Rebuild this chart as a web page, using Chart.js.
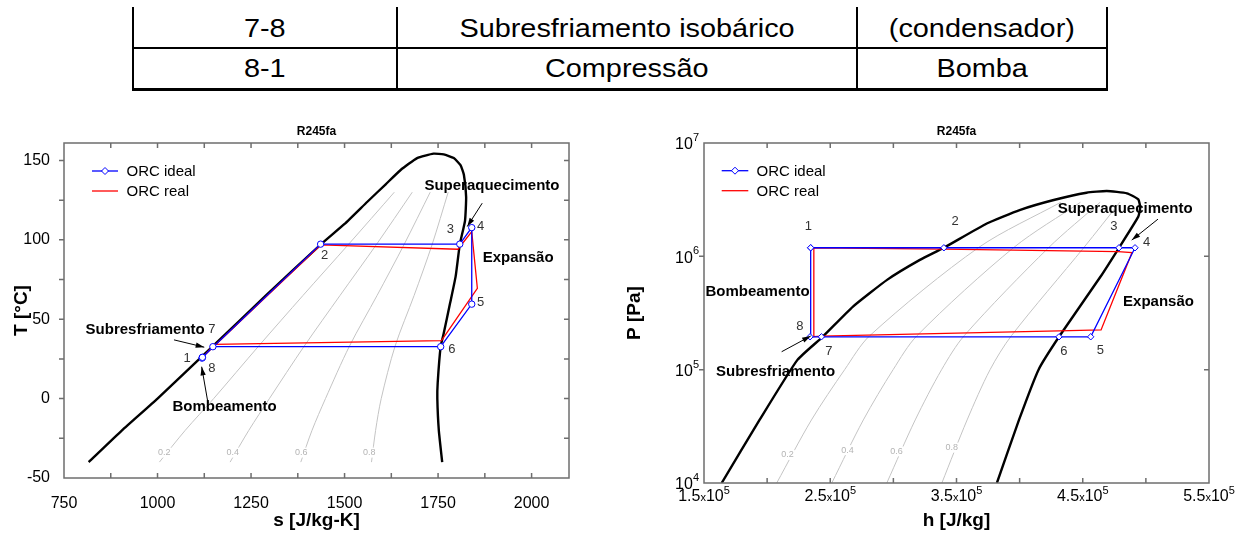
<!DOCTYPE html>
<html>
<head>
<meta charset="utf-8">
<script src="https://cdn.jsdelivr.net/npm/chart.js@4.4.0/dist/chart.umd.min.js"></script>
<style>
  body { margin: 0; width: 1246px; height: 536px; overflow: hidden; position: relative; background: #fff;
         font-family: 'Liberation Sans', Arial, sans-serif; }
  .linha { position: absolute; background: #000; }
  .cel { position: absolute; text-align: center; font-size: 26px; line-height: 30px; color: #000; }
  .cel span { display: inline-block; transform: scaleX(1.11); }
  canvas { position: absolute; }
</style>
</head>
<body>

<!-- fim da tabela de processos -->
<div class="linha" style="left:132px; top:7px; width:2px; height:82px"></div>
<div class="linha" style="left:396px; top:7px; width:2px; height:82px"></div>
<div class="linha" style="left:856px; top:7px; width:2px; height:82px"></div>
<div class="linha" style="left:1106px; top:7px; width:2px; height:82px"></div>
<div class="linha" style="left:132px; top:47px; width:976px; height:2px"></div>
<div class="linha" style="left:132px; top:88px; width:976px; height:3px"></div>
<div class="cel" style="left:133px; top:13px; width:264px"><span>7-8</span></div>
<div class="cel" style="left:397px; top:13px; width:460px"><span>Subresfriamento isobárico</span></div>
<div class="cel" style="left:857px; top:13px; width:250px"><span>(condensador)</span></div>
<div class="cel" style="left:133px; top:53px; width:264px"><span>8-1</span></div>
<div class="cel" style="left:397px; top:53px; width:460px"><span>Compressão</span></div>
<div class="cel" style="left:857px; top:53px; width:250px"><span>Bomba</span></div>

<canvas id="tsChart" width="600" height="436" style="left:0; top:100px"></canvas>
<canvas id="phChart" width="626" height="436" style="left:620px; top:100px"></canvas>

<script>
const FONT = "'Liberation Sans', Arial, sans-serif";
Chart.defaults.font.family = FONT;
Chart.defaults.color = '#000';

// ---- diagrama T-s ----
// estados 1..8 do ciclo
const tsIdealS = [1120, 1436, 1808, 1840, 1840, 1757, 1148, 1119];
const tsIdealT = [26, 97.3, 97.3, 107.7, 59.5, 32.7, 32.7, 25.5];
const tsRealS = [1122, 1436, 1803, 1840, 1855, 1759, 1152, 1121];
const tsRealT = [26.5, 96.8, 94.1, 105.2, 69.5, 36.5, 34.2, 26];
// curva de saturação (líquido e vapor)
const tsLiqS = [816, 905, 1000, 1148, 1290, 1436, 1500, 1561, 1610, 1650, 1694, 1738];
const tsLiqT = [-40, -20, 0, 33, 65, 97, 110, 124, 135, 144, 151.5, 154.3];
const tsVapS = [1765, 1792, 1810, 1819, 1825, 1822, 1808, 1797, 1782, 1765, 1757, 1749, 1748, 1752, 1761];
const tsVapT = [153.8, 151.5, 147, 141, 127, 112, 97, 77, 60, 41, 33, 10, 0, -20, -40];
// linhas de título
const tsQualT = [-40, -20, 0, 33, 65, 97, 130];
const tsQ02 = [1005, 1074, 1150, 1270, 1389, 1510, 1633];
const tsQ04 = [1194, 1244, 1299, 1392, 1488, 1585, 1681];
const tsQ06 = [1383, 1413, 1449, 1513, 1587, 1659, 1729];
const tsQ08 = [1572, 1583, 1598, 1635, 1686, 1734, 1777];
const tsXTicks = [875, 1000, 1125, 1250, 1375, 1500, 1625, 1750, 1875, 2000];
const tsYTicks = [-25, 0, 25, 50, 75, 100, 125, 150];

// ---- diagrama P-h ----
const phIdealH = [2.345e5, 3.40e5, 4.787e5, 4.914e5, 4.563e5, 4.312e5, 2.43e5, 2.34e5];
const phIdealP = [1.19e6, 1.19e6, 1.19e6, 1.19e6, 1.95e5, 1.95e5, 1.95e5, 1.95e5];
const phRealH = [2.37e5, 3.40e5, 4.78e5, 4.89e5, 4.645e5, 4.31e5, 2.43e5, 2.37e5];
const phRealP = [1.19e6, 1.16e6, 1.10e6, 1.08e6, 2.24e5, 2.2e5, 1.98e5, 1.96e5];
const phLiqH = [1.64e5, 1.94e5, 2.24e5, 2.44e5, 2.68e5, 2.95e5, 3.21e5, 3.40e5, 3.74e5, 4.0e5, 4.27e5, 4.53e5, 4.69e5];
const phLiqP = [1e4, 3.6e4, 1.22e5, 1.95e5, 3.6e5, 6.2e5, 9.3e5, 1.19e6, 1.95e6, 2.56e6, 3.14e6, 3.64e6, 3.77e6];
const phVapH = [4.85e5, 4.94e5, 4.955e5, 4.94e5, 4.787e5, 4.64e5, 4.312e5, 4.15e5, 3.995e5, 3.82e5];
const phVapP = [3.6e6, 3.18e6, 2.7e6, 2.24e6, 1.19e6, 6.6e5, 1.95e5, 1e5, 3.6e4, 1e4];
const phQualP = [1e4, 3.6e4, 1e5, 2e5, 1.2e6, 3e6];
const phQ02 = [2.076e5, 2.351e5, 2.614e5, 2.814e5, 3.677e5, 4.326e5];
const phQ04 = [2.512e5, 2.762e5, 2.998e5, 3.188e5, 3.955e5, 4.482e5];
const phQ06 = [2.948e5, 3.173e5, 3.382e5, 3.562e5, 4.232e5, 4.638e5];
const phQ08 = [3.384e5, 3.584e5, 3.766e5, 3.936e5, 4.510e5, 4.794e5];
const phXLabels = [1.5e5, 2.5e5, 3.5e5, 4.5e5, 5.5e5];
const phXTicks = [2e5, 2.5e5, 3e5, 3.5e5, 4e5, 4.5e5, 5e5];
const phYLabels = [1e4, 1e5, 1e6, 1e7];
const phYTicks = [1e5, 1e6];

const pts = (xs, ys) => xs.map((v, i) => ({ x: v, y: ys[i] }));
const closed = (xs, ys) => pts(xs.concat(xs[0]), ys.concat(ys[0]));

function cycleSets(ideal, real, dome, quals, marker) {
  const sets = [
    { label: 'ORC ideal', data: ideal, borderColor: '#0000ff', borderWidth: 1.3, showLine: true,
      pointRadius: 3.2, pointStyle: marker, pointBackgroundColor: '#fff', pointBorderColor: '#0000ff', pointBorderWidth: 1 },
    { label: 'ORC real', data: real, borderColor: '#ff0000', borderWidth: 1.3, showLine: true, pointRadius: 0 },
    { label: 'sat', data: dome, borderColor: '#000', borderWidth: 2.4, showLine: true, pointRadius: 0, tension: 0.15 }
  ];
  quals.forEach(q => sets.push({ data: q, borderColor: '#c4c4c4', borderWidth: 1, showLine: true, pointRadius: 0, tension: 0.3 }));
  return sets;
}

// moldura, marcas, legenda e textos por cima do gráfico
function overlay(cfg) {
  return {
    id: 'overlay',
    afterDraw(chart) {
      const { ctx, chartArea: a, scales: { x, y } } = chart;
      const px = v => x.getPixelForValue(v), py = v => y.getPixelForValue(v);
      ctx.save();

      ctx.strokeStyle = '#6e6e6e';
      ctx.lineWidth = 1.5;
      ctx.strokeRect(a.left, a.top, a.right - a.left, a.bottom - a.top);
      ctx.beginPath();
      cfg.xTicks.forEach(v => {
        const p = px(v);
        ctx.moveTo(p, a.bottom); ctx.lineTo(p, a.bottom - 5);
        ctx.moveTo(p, a.top); ctx.lineTo(p, a.top + 5);
      });
      cfg.yTicks.forEach(v => {
        const p = py(v);
        ctx.moveTo(a.left - 5, p); ctx.lineTo(a.left, p);
        ctx.moveTo(a.right, p); ctx.lineTo(a.right - 5, p);
      });
      ctx.stroke();

      ctx.textAlign = 'center';
      ctx.textBaseline = 'middle';

      // rótulos das linhas de título
      ctx.font = '9px ' + FONT;
      cfg.qLabels.forEach(l => {
        const w = ctx.measureText(l.t).width;
        ctx.fillStyle = '#fff';
        ctx.fillRect(px(l.x) - w / 2 - 1, py(l.y) - 5, w + 2, 10);
        ctx.fillStyle = '#b4b4b4';
        ctx.fillText(l.t, px(l.x), py(l.y));
      });

      ctx.fillStyle = '#333';
      ctx.font = '13px ' + FONT;
      cfg.pointLabels.forEach(l => ctx.fillText(l.t, px(l.x), py(l.y)));

      ctx.fillStyle = '#000';
      ctx.font = 'bold 15px ' + FONT;
      cfg.notes.forEach(l => ctx.fillText(l.t, px(l.x), py(l.y)));

      ctx.strokeStyle = '#000';
      ctx.lineWidth = 1;
      cfg.arrows.forEach(ar => {
        const x0 = px(ar.from[0]), y0 = py(ar.from[1]), x1 = px(ar.to[0]), y1 = py(ar.to[1]);
        const ang = Math.atan2(y1 - y0, x1 - x0);
        ctx.beginPath(); ctx.moveTo(x0, y0); ctx.lineTo(x1, y1); ctx.stroke();
        ctx.beginPath();
        ctx.moveTo(x1, y1);
        ctx.lineTo(x1 - 9 * Math.cos(ang - 0.3), y1 - 9 * Math.sin(ang - 0.3));
        ctx.lineTo(x1 - 9 * Math.cos(ang + 0.3), y1 - 9 * Math.sin(ang + 0.3));
        ctx.closePath(); ctx.fill();
      });

      // legenda
      const lg = cfg.legend;
      const entries = [['ORC ideal', '#0000ff', true], ['ORC real', '#ff0000', false]];
      entries.forEach((e, i) => {
        const ly = a.top + lg.y + i * 20;
        ctx.strokeStyle = e[1]; ctx.lineWidth = 1.3;
        ctx.beginPath(); ctx.moveTo(a.left + lg.x0, ly); ctx.lineTo(a.left + lg.x1, ly); ctx.stroke();
        if (e[2]) {
          const mx = a.left + (lg.x0 + lg.x1) / 2;
          ctx.fillStyle = '#fff'; ctx.lineWidth = 1;
          ctx.beginPath();
          ctx.moveTo(mx, ly - 3.5); ctx.lineTo(mx + 3.5, ly); ctx.lineTo(mx, ly + 3.5); ctx.lineTo(mx - 3.5, ly);
          ctx.closePath(); ctx.fill(); ctx.stroke();
        }
        ctx.fillStyle = '#000';
        ctx.font = '15px ' + FONT;
        ctx.textAlign = 'left';
        ctx.fillText(e[0], a.left + lg.tx, ly + 1);
      });

      ctx.textAlign = 'center';
      ctx.font = 'bold 12px ' + FONT;
      ctx.fillText('R245fa', (a.left + a.right) / 2, a.top - 11);

      if (cfg.extra) cfg.extra(chart);
      ctx.restore();
    }
  };
}

// rótulos com expoente do diagrama P-h
function phTickLabels(chart) {
  const { ctx, chartArea: a, scales: { x, y } } = chart;
  ctx.fillStyle = '#000';
  ctx.textBaseline = 'middle';
  phYLabels.forEach(v => {
    const e = String(Math.round(Math.log10(v)));
    const p = y.getPixelForValue(v);
    ctx.font = '11px ' + FONT;
    const we = ctx.measureText(e).width;
    ctx.textAlign = 'left';
    ctx.fillText(e, a.left - 5 - we, p - 5);
    ctx.font = '16px ' + FONT;
    ctx.textAlign = 'right';
    ctx.fillText('10', a.left - 5 - we, p + 2);
  });
  phXLabels.forEach(v => {
    const parts = [[String(v / 1e5), 16, 0], ['x', 11, 1], ['10', 16, 0], ['5', 11, -6]];
    let total = 0;
    parts.forEach(pt => { ctx.font = pt[1] + 'px ' + FONT; pt.push(ctx.measureText(pt[0]).width); total += pt[3]; });
    let cx = x.getPixelForValue(v) - total / 2;
    ctx.textAlign = 'left';
    parts.forEach(pt => {
      ctx.font = pt[1] + 'px ' + FONT;
      ctx.fillText(pt[0], cx, a.bottom + 14 + pt[2]);
      cx += pt[3];
    });
  });
}

const axisTitle = (text, pad) => ({ display: true, text: text, color: '#000', font: { size: 19, weight: 'bold' }, padding: pad });

new Chart(document.getElementById('tsChart'), {
  type: 'scatter',
  data: {
    datasets: cycleSets(
      closed(tsIdealS, tsIdealT), closed(tsRealS, tsRealT),
      pts(tsLiqS.concat(tsVapS), tsLiqT.concat(tsVapT)),
      [pts(tsQ02, tsQualT), pts(tsQ04, tsQualT), pts(tsQ06, tsQualT), pts(tsQ08, tsQualT)],
      'circle')
  },
  options: {
    responsive: false, animation: false, events: [],
    layout: { padding: { top: 43, right: 31, left: 0, bottom: 0 } },
    plugins: { legend: { display: false }, tooltip: { enabled: false } },
    scales: {
      x: {
        min: 750, max: 2100,
        grid: { display: false }, border: { display: false },
        ticks: { stepSize: 250, includeBounds: false, autoSkip: false, maxRotation: 0, padding: 8, font: { size: 16 },
                 callback: v => String(v) },
        title: axisTitle('s [J/kg-K]', { top: 0, bottom: 4 }),
        afterFit: s => { s.height = 58; }
      },
      y: {
        min: -50, max: 161,
        grid: { display: false }, border: { display: false },
        ticks: { stepSize: 50, includeBounds: false, autoSkip: false, padding: 6, font: { size: 16 },
                 callback: v => String(v) },
        title: axisTitle('T [°C]', { top: 10, bottom: 0 }),
        afterFit: s => { s.width = 64; }
      }
    }
  },
  plugins: [overlay({
    xTicks: tsXTicks, yTicks: tsYTicks,
    legend: { x0: 28, x1: 54, y: 28, tx: 62.5 },
    qLabels: [{ t: '0.2', x: 1018, y: -34 }, { t: '0.4', x: 1201, y: -34 }, { t: '0.6', x: 1384, y: -34 }, { t: '0.8', x: 1566, y: -34 }],
    pointLabels: [
      { t: '1', x: 1079, y: 25.6 }, { t: '2', x: 1447, y: 89.9 }, { t: '3', x: 1783, y: 106.3 }, { t: '4', x: 1864, y: 108.4 },
      { t: '5', x: 1864, y: 60.5 }, { t: '6', x: 1787, y: 30.7 }, { t: '7', x: 1145, y: 43.3 }, { t: '8', x: 1145, y: 19.3 }
    ],
    notes: [
      { t: 'Superaquecimento', x: 1894, y: 134.2 }, { t: 'Expansão', x: 1964, y: 88.4 },
      { t: 'Subresfriamento', x: 967, y: 43.3 }, { t: 'Bombeamento', x: 1179, y: -5.3 }
    ],
    arrows: [
      { from: [1868, 123.1], to: [1828, 108.4] },
      { from: [1044, 37], to: [1125, 32.4] },
      { from: [1135, -2.9], to: [1118, 20.1] }
    ]
  })]
});

new Chart(document.getElementById('phChart'), {
  type: 'scatter',
  data: {
    datasets: cycleSets(
      closed(phIdealH, phIdealP), closed(phRealH, phRealP),
      pts(phLiqH.concat(phVapH), phLiqP.concat(phVapP)),
      [pts(phQ02, phQualP), pts(phQ04, phQualP), pts(phQ06, phQualP), pts(phQ08, phQualP)],
      'rectRot')
  },
  options: {
    responsive: false, animation: false, events: [],
    layout: { padding: { top: 43, right: 37, left: 0, bottom: 0 } },
    plugins: { legend: { display: false }, tooltip: { enabled: false } },
    scales: {
      x: {
        min: 1.5e5, max: 5.5e5,
        grid: { display: false }, border: { display: false },
        ticks: { display: false },
        title: axisTitle('h [J/kg]', { top: 0, bottom: 4 }),
        afterFit: s => { s.height = 53; }
      },
      y: {
        type: 'logarithmic', min: 1e4, max: 1e7,
        grid: { display: false }, border: { display: false },
        ticks: { display: false },
        title: axisTitle('P [Pa]', { top: 3, bottom: 0 }),
        afterFit: s => { s.width = 84; }
      }
    }
  },
  plugins: [overlay({
    xTicks: phXTicks, yTicks: phYTicks,
    legend: { x0: 17.7, x1: 44.3, y: 27.7, tx: 52.5 },
    qLabels: [{ t: '0.2', x: 2.162e5, y: 1.77e4 }, { t: '0.4', x: 2.636e5, y: 1.95e4 }, { t: '0.6', x: 3.024e5, y: 1.9e4 }, { t: '0.8', x: 3.462e5, y: 2.05e4 }],
    pointLabels: [
      { t: '1', x: 2.326e5, y: 1.85e6 }, { t: '2', x: 3.49e5, y: 2.02e6 }, { t: '3', x: 4.747e5, y: 1.82e6 }, { t: '4', x: 5.006e5, y: 1.32e6 },
      { t: '5', x: 4.64e5, y: 1.47e5 }, { t: '6', x: 4.35e5, y: 1.44e5 }, { t: '7', x: 2.49e5, y: 1.44e5 }, { t: '8', x: 2.26e5, y: 2.39e5 }
    ],
    notes: [
      { t: 'Superaquecimento', x: 4.836e5, y: 2.62e6 }, { t: 'Expansão', x: 5.1e5, y: 3.98e5 },
      { t: 'Bombeamento', x: 1.924e5, y: 4.84e5 }, { t: 'Subresfriamento', x: 2.067e5, y: 9.6e4 }
    ],
    arrows: [
      { from: [5.096e5, 2.13e6], to: [4.888e5, 1.39e6] },
      { from: [2.115e5, 1.44e5], to: [2.345e5, 1.98e5] }
    ],
    extra: phTickLabels
  })]
});
</script>
</body>
</html>
